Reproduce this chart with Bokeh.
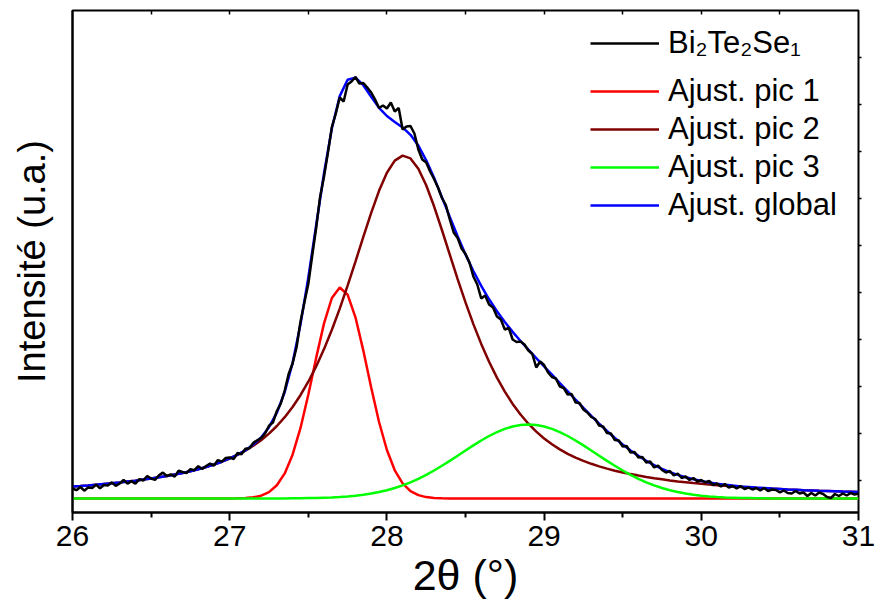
import numpy as np
from bokeh.plotting import figure
from bokeh.models import Range1d, Legend, LegendItem, FixedTicker, LinearAxis
from bokeh.embed import file_html
from bokeh.resources import INLINE

FONT = "Liberation Sans"

# ---------------- data ----------------
x_ticks = [26, 27, 28, 29, 30, 31]
x_minor = [26.5, 27.5, 28.5, 29.5, 30.5]
top_ticks = [26.5, 27, 27.5, 28, 28.5, 29, 29.5, 30, 30.5]
right_ticks = [18, 65, 112, 159, 206, 253, 300, 347, 394, 441]

fit_x = np.round(np.linspace(26.0, 31.0, 101), 2)   # fit curves sampled every 0.05 deg
meas_x = np.round(np.linspace(26.0, 31.0, 201), 3)  # measurement sampled every 0.025 deg

pic1 = [0.0] * 19 + [
    0.0, 0.1, 0.2, 0.4, 1.2, 2.8, 6.4, 13.2, 25.1, 43.8,
    70.3, 103.7, 140.6, 175.1, 200.5, 211.0, 203.9, 181.2, 147.9, 111.0,
    76.5, 48.5, 28.2, 15.1, 7.4, 3.4, 1.4, 0.5, 0.2, 0.1] + [0.0] * 52

pic2 = [
    12.0, 12.5, 13.1, 13.8, 14.5, 15.2, 16.0, 16.9, 17.8, 18.9,
    20.0, 21.2, 22.5, 23.9, 25.5, 27.3, 29.3, 31.5, 34.0, 36.8,
    40.0, 43.6, 47.8, 52.7, 58.3, 64.9, 72.5, 81.3, 91.5, 103.3,
    116.8, 132.1, 149.4, 168.7, 189.9, 212.8, 236.9, 261.6, 285.7, 307.7,
    325.7, 337.9, 342.9, 340.1, 329.8, 313.2, 292.2, 268.5, 243.8, 219.4,
    196.1, 174.4, 154.6, 136.7, 120.9, 106.9, 94.6, 84.0, 74.8, 66.9,
    60.0, 54.2, 49.1, 44.7, 40.9, 37.6, 34.7, 32.1, 29.9, 27.8,
    26.0, 24.4, 22.9, 21.5, 20.3, 19.2, 18.1, 17.1, 16.3, 15.4,
    14.7, 14.0, 13.3, 12.7, 12.1, 11.6, 11.1, 10.6, 10.2, 9.8,
    9.4, 9.0, 8.7, 8.3, 8.0, 7.7, 7.5, 7.2, 6.9, 6.7,
    6.5]

pic3 = [0.0] * 26 + [
    0.1, 0.1, 0.2, 0.3, 0.4, 0.5, 0.8, 1.1, 1.5, 2.1,
    2.8, 3.8, 5.0, 6.5, 8.3, 10.5, 13.1, 16.2, 19.7, 23.6,
    28.0, 32.7, 37.6, 42.8, 48.0, 53.1, 58.0, 62.5, 66.4, 69.6,
    72.0, 73.5, 74.0, 73.5, 72.0, 69.6, 66.4, 62.5, 58.0, 53.1,
    48.0, 42.8, 37.6, 32.7, 28.0, 23.6, 19.7, 16.2, 13.1, 10.5,
    8.3, 6.5, 5.0, 3.8, 2.8, 2.1, 1.5, 1.1, 0.8, 0.5,
    0.4, 0.3, 0.2, 0.1, 0.1] + [0.0] * 10

global_fit = [
    12.0, 12.5, 13.1, 13.8, 14.5, 15.2, 16.0, 16.9, 17.8, 18.9,
    20.0, 21.2, 22.5, 23.9, 25.5, 27.3, 29.3, 31.5, 34.0, 36.8,
    40.1, 43.8, 48.2, 53.9, 61.1, 71.3, 85.8, 106.5, 135.5, 173.9,
    220.9, 273.2, 325.3, 370.3, 402.4, 418.8, 420.9, 413.3, 401.7, 390.7,
    382.5, 376.6, 371.1, 363.7, 352.9, 338.2, 320.7, 301.4, 281.5, 262.2,
    244.1, 227.5, 212.6, 199.2, 187.3, 176.5, 166.6, 157.5, 148.8, 140.4,
    132.0, 123.8, 115.5, 107.2, 98.9, 90.7, 82.7, 74.9, 67.5, 60.5,
    54.0, 48.0, 42.6, 37.7, 33.4, 29.7, 26.4, 23.6, 21.3, 19.2,
    17.5, 16.1, 14.8, 13.8, 12.9, 12.1, 11.5, 10.9, 10.4, 9.9,
    9.5, 9.0, 8.7, 8.3, 8.0, 7.7, 7.5, 7.2, 6.9, 6.7,
    6.5]

measured = [
    10.0, 8.3, 11.5, 7.8, 11.1, 10.5, 13.8, 10.2, 13.5, 12.9,
    16.2, 12.6, 15.0, 18.5, 14.9, 17.4, 14.8, 19.4, 17.9, 22.5,
    20.0, 18.6, 23.2, 25.9, 22.5, 24.2, 21.9, 27.7, 26.5, 25.4,
    29.3, 28.3, 32.3, 29.4, 32.5, 34.8, 33.0, 38.4, 36.8, 40.5,
    41.1,
    39.5, 45.5, 44.2, 49.8, 50.3, 55.6, 58.2, 60.5, 65.0, 72.8,
    76.0, 87.5, 95.0, 108.0, 124.5, 135.0, 151.0, 176.5, 196.0, 214.5,
    243.0, 270.5, 301.5, 322.0, 346.0, 371.5, 385.0, 401.0, 397.0, 414.0,
    417.0, 421.5, 415.0, 415.5, 411.0, 406.0, 399.0, 390.5, 393.0, 390.0,
    396.0, 387.0, 390.5, 369.0, 372.0, 372.5, 365.0, 349.0, 339.0, 336.0,
    327.0, 319.5, 311.0, 300.5, 293.5, 279.0, 266.0, 260.5, 250.0, 244.5,
    236.0, 222.0, 214.0, 200.0, 203.0, 194.0, 191.0, 182.0, 179.0, 169.0,
    170.5, 159.0, 156.5, 157.0, 154.0, 148.0, 144.5, 131.0, 137.0, 133.5,
    126.0, 121.5, 120.0, 112.0, 110.5, 104.0, 104.5, 96.0, 95.5, 89.0,
    86.0, 81.5, 79.5, 73.0, 72.0, 65.5, 65.0, 58.5, 58.0, 52.0,
    52.5, 46.0, 46.5, 41.0, 41.5, 36.0, 37.0, 31.0, 33.0, 28.5,
    26.0, 27.5, 23.0, 25.0, 20.5, 22.0, 18.5, 20.5, 17.0, 18.5,
    16.0, 17.5, 13.5, 15.0, 12.0, 14.5, 11.0, 12.5, 10.0, 12.5,
    9.5, 11.0, 9.0, 10.5, 8.0, 10.5, 7.5, 9.0, 8.5, 6.0,
    8.0, 5.5, 5.0, 7.5, 5.0, 6.0, 2.5, 5.5, 3.0, 6.0,
    4.5, 1.5, 0.5, 4.5, 2.5, 5.0, 3.0, 5.5, 4.0, 5.0]

labels = ["Bi\u2082Te\u2082Se\u2081", "Ajust. pic 1", "Ajust. pic 2", "Ajust. pic 3", "Ajust. global"]
colors = ["#000000", "#FF0000", "#800000", "#00FF00", "#0000FF"]

# ---------------- figure ----------------
p = figure(frame_width=786, frame_height=502,
           x_range=Range1d(26, 31), y_range=Range1d(-14, 488),
           output_backend="svg", toolbar_location=None,
           min_border_left=72, min_border_right=18, min_border_top=10, min_border_bottom=99,
           x_axis_label="2\u03b8 (\u00b0)", y_axis_label="Intensit\u00e9 (u.a.)")
p.xgrid.visible = False
p.ygrid.visible = False
p.outline_line_color = "black"
p.outline_line_width = 2
p.background_fill_color = "white"
p.border_fill_color = "white"

LW = 2.5
r1 = p.line(fit_x, pic1, line_color=colors[1], line_width=LW)
r2 = p.line(fit_x, pic2, line_color=colors[2], line_width=LW)
r3 = p.line(fit_x, pic3, line_color=colors[3], line_width=LW)
rg = p.line(fit_x, global_fit, line_color=colors[4], line_width=LW)
rm = p.line(meas_x, measured, line_color=colors[0], line_width=LW)

xa = p.xaxis[0]
xa.ticker = FixedTicker(ticks=x_ticks, minor_ticks=x_minor)
xa.axis_line_width = 2
xa.major_tick_line_width = 2
xa.minor_tick_line_width = 2
xa.major_tick_out = 8
xa.major_tick_in = 0
xa.minor_tick_out = 5
xa.minor_tick_in = 0
xa.major_label_standoff = 5
xa.major_label_text_font = FONT
xa.major_label_text_font_size = "30px"
xa.major_label_text_color = "black"
xa.axis_label_text_font = FONT
xa.axis_label_text_font_size = "43px"
xa.axis_label_text_font_style = "normal"
xa.axis_label_text_color = "black"
xa.axis_label_standoff = 2

ya = p.yaxis[0]
ya.ticker = FixedTicker(ticks=[])
ya.axis_line_width = 2
ya.major_tick_in = 0
ya.major_tick_out = 0
ya.minor_tick_out = 0
ya.minor_tick_in = 0
ya.major_label_standoff = 0
ya.axis_label_text_font = FONT
ya.axis_label_text_font_size = "38px"
ya.axis_label_text_font_style = "normal"
ya.axis_label_text_color = "black"
ya.axis_label_standoff = 20

# small tick marks on the top (inward) and right (outward) edges, without labels
top_axis = LinearAxis(ticker=FixedTicker(ticks=[], minor_ticks=top_ticks),
                      axis_line_color=None, minor_tick_in=4, minor_tick_out=0,
                      minor_tick_line_width=1.5, major_label_standoff=0)
right_axis = LinearAxis(ticker=FixedTicker(ticks=[], minor_ticks=right_ticks),
                        axis_line_color=None, minor_tick_in=0, minor_tick_out=3,
                        minor_tick_line_width=1.5, major_label_standoff=0)
p.add_layout(top_axis, "above")
p.add_layout(right_axis, "right")

common = dict(border_line_color=None, background_fill_alpha=0,
              label_text_font=FONT, label_text_font_size="31px", label_text_color="black",
              glyph_width=69, glyph_height=36, label_height=36, spacing=2,
              label_standoff=9, padding=0, margin=0)

# legend split in two blocks: the first entry (with subscripts) stands a little higher
# (location = left / bottom of each block, in px from the frame's lower-left corner)
legend_a = Legend(items=[LegendItem(label=labels[0], renderers=[rm])],
                  location=(518, 451), **common)
legend_b = Legend(items=[LegendItem(label=labels[1], renderers=[r1]),
                         LegendItem(label=labels[2], renderers=[r2]),
                         LegendItem(label=labels[3], renderers=[r3]),
                         LegendItem(label=labels[4], renderers=[rg])],
                  location=(518, 289), **common)
p.add_layout(legend_a)
p.add_layout(legend_b)

open("out.html", "w").write(file_html(p, INLINE))
